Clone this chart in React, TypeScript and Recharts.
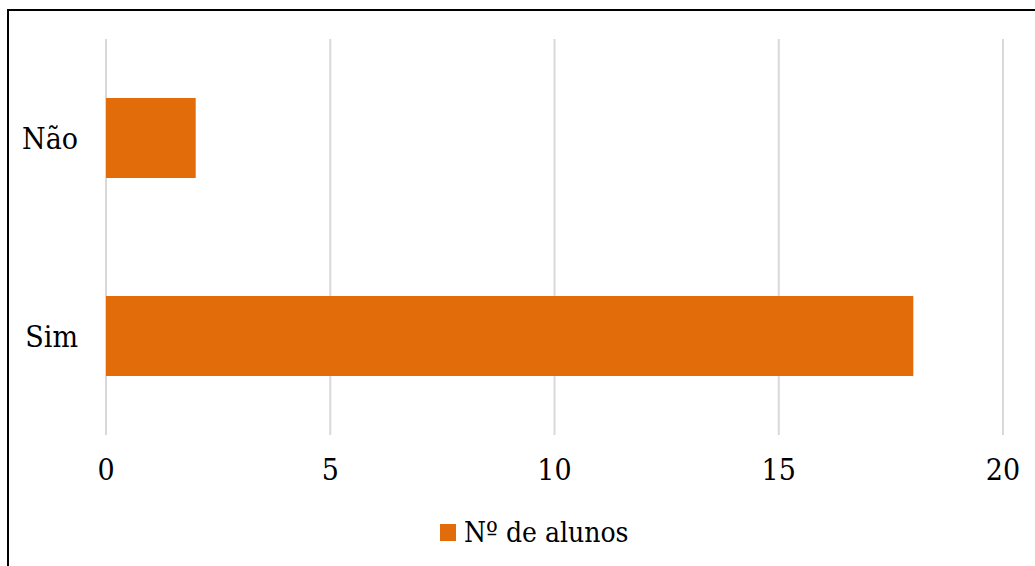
import React from 'react'
import {
  BarChart,
  Bar,
  XAxis,
  YAxis,
  CartesianGrid,
  Legend,
} from 'recharts'

const categories = ['Não', 'Sim']
const alunos = [2, 18]
const xTicks = [0, 5, 10, 15, 20]
const seriesName = 'Nº de alunos'

const data = categories.map((resposta, i) => ({ resposta, alunos: alunos[i] }))

// only serif face in the sandbox is DejaVu Serif; condensed width is closer to Times
const FONT = '"DejaVu Serif", serif'
const ORANGE = '#E36C0A'
const textStyle = { fontStretch: 'condensed' }

const LegendContent = () => (
  <div
    style={{
      display: 'flex',
      alignItems: 'center',
      height: 36,
      paddingLeft: 440,
      fontFamily: FONT,
      fontStretch: 'condensed',
      fontSize: 28,
      color: '#000',
    }}
  >
    <span style={{ width: 16, height: 17, background: ORANGE, marginRight: 8 }} />
    <span>{seriesName}</span>
  </div>
)

export default function App() {
  return (
    <div
      style={{
        position: 'fixed',
        left: 0,
        top: 0,
        width: 1035,
        height: 566,
        overflow: 'hidden',
        background: '#fff',
      }}
    >
      <div
        style={{
          position: 'absolute',
          left: 7,
          top: 9,
          width: 1100,
          height: 620,
          border: '2px solid #000',
          boxSizing: 'border-box',
        }}
      />
      <div style={{ position: 'absolute', left: 0, top: 0 }}>
        <BarChart
          width={1035}
          height={566}
          data={data}
          layout="vertical"
          margin={{ top: 39, right: 32, left: 0, bottom: 16 }}
        >
          <CartesianGrid horizontal={false} stroke="#D9D9D9" strokeWidth={2} />
          <XAxis
            type="number"
            domain={[0, 20]}
            ticks={xTicks}
            axisLine={false}
            tickLine={false}
            tickSize={0}
            tickMargin={24}
            height={79}
            tick={{ fill: '#000', fontSize: 30, fontFamily: FONT, style: textStyle }}
          />
          <YAxis
            type="category"
            dataKey="resposta"
            width={106}
            axisLine={false}
            tickLine={false}
            tickSize={0}
            tickMargin={28}
            tick={{ fill: '#000', fontSize: 30, fontFamily: FONT, style: textStyle }}
          />
          <Legend
            verticalAlign="bottom"
            content={<LegendContent />}
            wrapperStyle={{ left: 0, width: 1035, bottom: 16 }}
          />
          <Bar
            dataKey="alunos"
            name={seriesName}
            fill={ORANGE}
            barSize={80}
            isAnimationActive={false}
          />
        </BarChart>
      </div>
    </div>
  )
}
